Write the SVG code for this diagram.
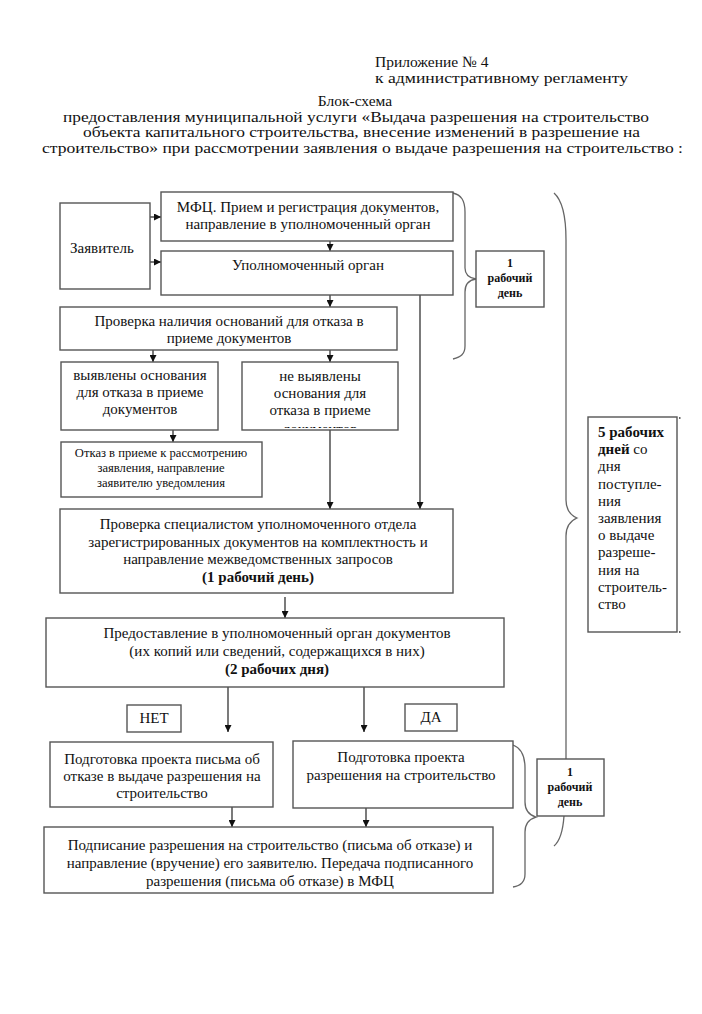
<svg xmlns="http://www.w3.org/2000/svg" width="702" height="1014" viewBox="0 0 702 1014">
<style>
.bx{fill:#fff;stroke:#555;stroke-width:1.4}
.t{font-family:"Liberation Serif","Times New Roman","DejaVu Serif",serif;font-size:15px;fill:#111}
.c{text-anchor:middle}
.h{font-size:15.5px}
.s{font-size:12.6px}
.d{font-size:12px}
.b{font-weight:bold}
.ln{fill:none;stroke:#222;stroke-width:1.2}
.br{fill:none;stroke:#666;stroke-width:1.3}
</style>
<defs>
<marker id="ar" viewBox="0 0 10 10" refX="10" refY="5" markerWidth="7" markerHeight="7" markerUnits="userSpaceOnUse" orient="auto">
<path d="M0,0 L10,5 L0,10 Z" fill="#111"/>
</marker>
<clipPath id="clipNV"><rect x="242" y="362" width="156" height="66"/></clipPath>
</defs>
<rect width="702" height="1014" fill="#fff"/>

<g id="header">
<text class="t h" x="375" y="67">Приложение № 4</text>
<text class="t h" x="375" y="83" textLength="253" lengthAdjust="spacingAndGlyphs">к административному регламенту</text>
<text class="t h c" x="355" y="106">Блок-схема</text>
<text class="t h" x="63" y="122" textLength="586" lengthAdjust="spacingAndGlyphs">предоставления муниципальной услуги «Выдача разрешения на строительство</text>
<text class="t h" x="83" y="137" textLength="557" lengthAdjust="spacingAndGlyphs">объекта капитального строительства, внесение изменений в разрешение на</text>
<text class="t h" x="42" y="153" textLength="641" lengthAdjust="spacingAndGlyphs">строительство» при рассмотрении заявления о выдаче разрешения на строительство :</text>
</g>

<g id="connectors">
<line class="ln" x1="150" y1="217" x2="161" y2="217" marker-end="url(#ar)"/>
<line class="ln" x1="150" y1="262" x2="161" y2="262" marker-end="url(#ar)"/>
<line class="ln" x1="330" y1="241" x2="330" y2="251" marker-end="url(#ar)"/>
<line class="ln" x1="330" y1="295" x2="330" y2="307" marker-end="url(#ar)"/>
<line class="ln" x1="420" y1="295" x2="420" y2="509" marker-end="url(#ar)"/>
<line class="ln" x1="153" y1="350" x2="153" y2="362" marker-end="url(#ar)"/>
<line class="ln" x1="330" y1="350" x2="330" y2="362" marker-end="url(#ar)"/>
<line class="ln" x1="173" y1="430" x2="173" y2="442" marker-end="url(#ar)"/>
<line class="ln" x1="330" y1="430" x2="330" y2="509" marker-end="url(#ar)"/>
<line class="ln" x1="285" y1="597" x2="285" y2="618" marker-end="url(#ar)"/>
<line class="ln" x1="228" y1="687" x2="228" y2="732" marker-end="url(#ar)"/>
<line class="ln" x1="364" y1="687" x2="364" y2="732" marker-end="url(#ar)"/>
<line class="ln" x1="232" y1="807" x2="232" y2="827" marker-end="url(#ar)"/>
<line class="ln" x1="366" y1="808" x2="366" y2="827" marker-end="url(#ar)"/>
<path class="br" d="M453,193 C461,195 465,200 465,212 L465,268 C465,274 469,278 476,279 C469,280 465,284 465,292 L465,346 C465,354 461,357 453,359"/>
<path class="br" d="M554,193 C562,200 566,215 566,240 L566,500 C566,510 570,515 577,518 C570,521 566,526 566,536 L566,759"/>
<path class="br" d="M564,816 C563,830 560,841 554,846"/>
<path class="br" d="M513,745 C521,748 525,755 525,768 L525,802 C525,810 529,815 536,817 C529,819 525,824 525,832 L525,874 C525,882 520,886 513,887"/>
<rect x="679" y="417" width="1.5" height="2" fill="#666"/>
<rect x="679" y="631" width="1.5" height="2" fill="#666"/>
</g>

<g id="zayavitel">
<rect class="bx" x="60" y="203" width="90" height="86"/>
<text class="t" x="70" y="253">Заявитель</text>
</g>

<g id="mfc">
<rect class="bx" x="161" y="192" width="292" height="49"/>
<text class="t c" x="308" y="212">МФЦ. Прием и регистрация документов,</text>
<text class="t c" x="308" y="229">направление в уполномоченный орган</text>
</g>

<g id="upolnom">
<rect class="bx" x="161" y="251" width="292" height="44"/>
<text class="t c" x="308" y="270">Уполномоченный орган</text>
</g>

<g id="proverka-osnovaniy">
<rect class="bx" x="60" y="307" width="337" height="43"/>
<text class="t c" x="229" y="326">Проверка наличия оснований для отказа в</text>
<text class="t c" x="229" y="343">приеме документов</text>
</g>

<g id="vyyavleny">
<rect class="bx" x="61" y="362" width="157" height="68"/>
<text class="t c" x="140" y="380">выявлены основания</text>
<text class="t c" x="140" y="397">для отказа в приеме</text>
<text class="t c" x="140" y="414">документов</text>
</g>

<g id="ne-vyyavleny">
<rect class="bx" x="242" y="362" width="156" height="68"/>
<text class="t c" x="320" y="381">не выявлены</text>
<text class="t c" x="320" y="398">основания для</text>
<text class="t c" x="320" y="415">отказа в приеме</text>
<text class="t c" x="320" y="434" clip-path="url(#clipNV)">документов</text>
</g>

<g id="otkaz">
<rect class="bx" x="61" y="442" width="201" height="55"/>
<text class="t s c" x="161" y="457">Отказ в приеме к рассмотрению</text>
<text class="t s c" x="161" y="472">заявления, направление</text>
<text class="t s c" x="161" y="487">заявителю уведомления</text>
</g>

<g id="proverka-specialistom">
<rect class="bx" x="60" y="509" width="393" height="84"/>
<text class="t c" x="258" y="529">Проверка специалистом уполномоченного отдела</text>
<text class="t c" x="258" y="547">зарегистрированных документов на комплектность и</text>
<text class="t c" x="258" y="564">направление межведомственных запросов</text>
<text class="t c b" x="258" y="582">(1 рабочий день)</text>
</g>

<g id="predostavlenie">
<rect class="bx" x="46" y="618" width="458" height="69"/>
<text class="t c" x="277" y="638">Предоставление в уполномоченный орган документов</text>
<text class="t c" x="277" y="656">(их копий или сведений, содержащихся в них)</text>
<text class="t c b" x="277" y="674">(2 рабочих дня)</text>
</g>

<g id="net">
<rect class="bx" x="127" y="705" width="54" height="27"/>
<text class="t c" x="154" y="723">НЕТ</text>
</g>

<g id="da">
<rect class="bx" x="405" y="704" width="52" height="27"/>
<text class="t c" x="431" y="722">ДА</text>
</g>

<g id="podgotovka-otkaz">
<rect class="bx" x="50" y="742" width="223" height="65"/>
<text class="t c" x="162" y="764">Подготовка проекта письма об</text>
<text class="t c" x="162" y="781">отказе в выдаче разрешения на</text>
<text class="t c" x="162" y="798">строительство</text>
</g>

<g id="podgotovka-razreshenie">
<rect class="bx" x="293" y="741" width="220" height="67"/>
<text class="t c" x="401" y="762">Подготовка проекта</text>
<text class="t c" x="401" y="780">разрешения на строительство</text>
</g>

<g id="podpisanie">
<rect class="bx" x="44" y="827" width="449" height="66"/>
<text class="t c" x="270" y="850">Подписание разрешения на строительство (письма об отказе) и</text>
<text class="t c" x="270" y="868">направление (вручение) его заявителю. Передача подписанного</text>
<text class="t c" x="270" y="886">разрешения (письма об отказе) в МФЦ</text>
</g>

<g id="den1-top">
<rect class="bx" x="476" y="251" width="68" height="56"/>
<text class="t d c b" x="510" y="267">1</text>
<text class="t d c b" x="510" y="282">рабочий</text>
<text class="t d c b" x="510" y="297">день</text>
</g>

<g id="dney5">
<rect class="bx" x="588" y="417" width="89" height="215"/>
<text class="t" x="598" y="437"><tspan class="b">5 рабочих</tspan></text>
<text class="t" x="598" y="454"><tspan class="b">дней</tspan> со</text>
<text class="t" x="598" y="471">дня</text>
<text class="t" x="598" y="489">поступле-</text>
<text class="t" x="598" y="506">ния</text>
<text class="t" x="598" y="523">заявления</text>
<text class="t" x="598" y="540">о выдаче</text>
<text class="t" x="598" y="557">разреше-</text>
<text class="t" x="598" y="575">ния на</text>
<text class="t" x="598" y="592">строитель-</text>
<text class="t" x="598" y="609">ство</text>
</g>

<g id="den1-bottom">
<rect class="bx" x="537" y="759" width="67" height="57"/>
<text class="t d c b" x="570" y="776">1</text>
<text class="t d c b" x="570" y="791">рабочий</text>
<text class="t d c b" x="570" y="806">день</text>
</g>
</svg>
